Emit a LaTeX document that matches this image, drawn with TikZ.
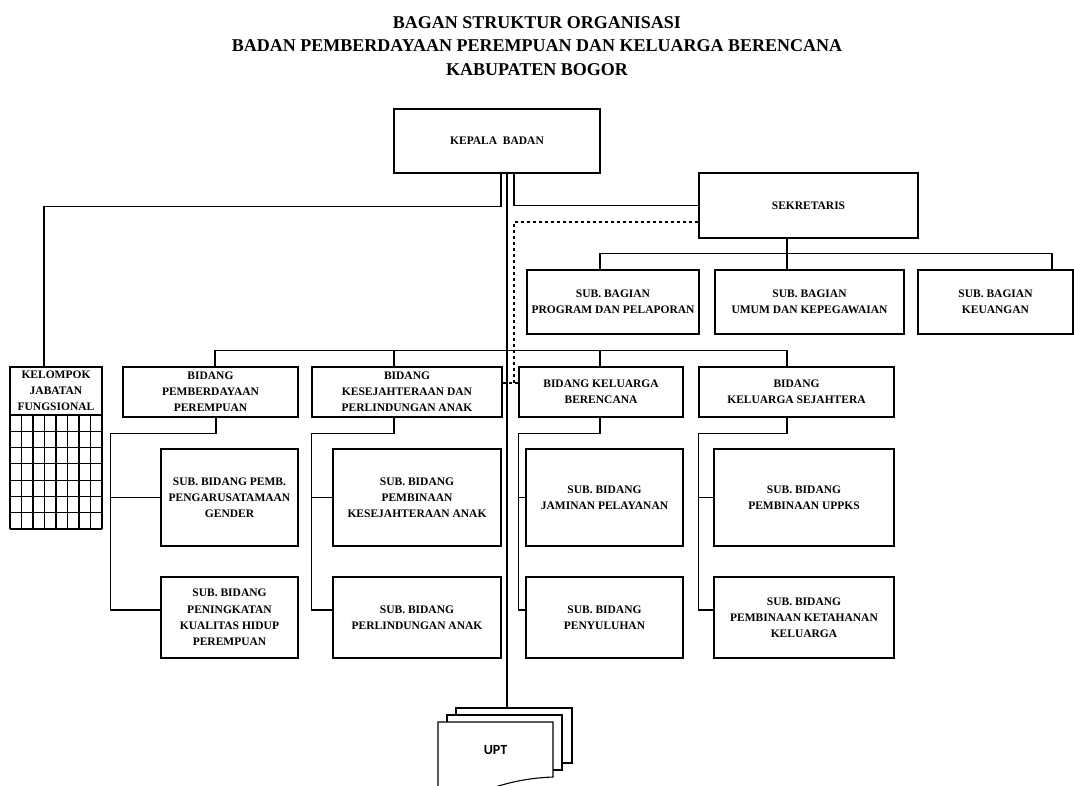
\documentclass[tikz,border=0pt]{standalone}
\usepackage{fontspec}
\setmainfont{Liberation Serif}
\newfontfamily\uptfont{Carlito}
\usetikzlibrary{positioning,calc}

\begin{document}
\begin{tikzpicture}[x=1pt,y=-1pt,line width=1.1pt,
  org box/.style={draw,align=center,inner sep=0pt,font=\bfseries\fontsize{11.5}{16.2}\selectfont},
  doc box/.style={draw,fill=white,inner sep=0pt}]
\path[use as bounding box,fill=white] (0,0) rectangle (1074,785);
\node[align=center,font=\bfseries\fontsize{18}{23.5}\selectfont] (title) at (537,46)
  {BAGAN STRUKTUR ORGANISASI\\BADAN PEMBERDAYAAN PEREMPUAN DAN KELUARGA BERENCANA\\KABUPATEN BOGOR};
\begin{scope}[every node/.style={org box}]
\node[minimum width=206,minimum height=64] (kepala) at (497,141) {KEPALA\ \ BADAN};
\node[minimum width=219,minimum height=65] (sekretaris) at (808.5,205.5) {SEKRETARIS};
\node[minimum width=172,minimum height=64] (sbprog) at (613,302) {SUB. BAGIAN\\PROGRAM DAN PELAPORAN};
\node[minimum width=189,minimum height=64] (sbumum) at (809.5,302) {SUB. BAGIAN\\UMUM DAN KEPEGAWAIAN};
\node[minimum width=155,minimum height=64] (sbkeu) at (995.5,302) {SUB. BAGIAN\\KEUANGAN};
\node[minimum width=92,minimum height=48] (kelompok) at (56,391) {KELOMPOK\\JABATAN\\FUNGSIONAL};
\node[minimum width=175,minimum height=50] (bpp) at (210.5,392) {BIDANG\\PEMBERDAYAAN\\PEREMPUAN};
\node[minimum width=190,minimum height=50] (bkpa) at (407,392) {BIDANG\\KESEJAHTERAAN DAN\\PERLINDUNGAN ANAK};
\node[minimum width=164,minimum height=50] (bkb) at (601,392) {BIDANG KELUARGA\\BERENCANA};
\node[minimum width=195,minimum height=50] (bks) at (796.5,392) {BIDANG\\KELUARGA SEJAHTERA};
\node[minimum width=137,minimum height=97] (spp1) at (229.5,497.5) {SUB. BIDANG PEMB.\\PENGARUSATAMAAN\\GENDER};
\node[minimum width=137,minimum height=81] (spp2) at (229.5,617.5) {SUB. BIDANG\\PENINGKATAN\\KUALITAS HIDUP\\PEREMPUAN};
\node[minimum width=168,minimum height=97] (skpa1) at (417,497.5) {SUB. BIDANG\\PEMBINAAN\\KESEJAHTERAAN ANAK};
\node[minimum width=168,minimum height=81] (skpa2) at (417,617.5) {SUB. BIDANG\\PERLINDUNGAN ANAK};
\node[minimum width=157,minimum height=97] (skb1) at (604.5,497.5) {SUB. BIDANG\\JAMINAN PELAYANAN};
\node[minimum width=157,minimum height=81] (skb2) at (604.5,617.5) {SUB. BIDANG\\PENYULUHAN};
\node[minimum width=180,minimum height=97] (sks1) at (804,497.5) {SUB. BIDANG\\PEMBINAAN UPPKS};
\node[minimum width=180,minimum height=81] (sks2) at (804,617.5) {SUB. BIDANG\\PEMBINAAN KETAHANAN\\KELUARGA};
\end{scope}
% kotak kelompok jabatan
\foreach \i in {0,...,8}
  \draw ({10+\i*11.5},415) -- ({10+\i*11.5},529);
\foreach \j in {1,...,7}
  \draw (10,{415+\j*16.29}) -- (102,{415+\j*16.29});
% UPT
\node[doc box,minimum width=116,minimum height=55] (updoc3) at (514,735.5) {};
\node[doc box,minimum width=115,minimum height=55] (updoc2) at (504.5,742.5) {};
\filldraw[fill=white] (438,800) -- (438,722) -- (553,722) -- (553,777)
  .. controls (528,778) and (505,782) .. (470,796) -- cycle;
\node[font=\uptfont\bfseries\fontsize{14}{16}\selectfont] (upt) at (495.5,750.5) {UPT};
% garis
\draw ([xshift=4pt]kepala.south) -- ++(0,33) -| ([xshift=-12pt]kelompok.north);
\draw ([xshift=17pt]kepala.south) |- (sekretaris.west);
\draw ([xshift=10pt]kepala.south) |- (updoc3.north);
\draw ([xshift=-21.5pt]sekretaris.south) -- ++(0,32);
\draw ([xshift=-13pt]sbprog.north) -- ++(0,-16) -| ([xshift=56.5pt]sbkeu.north);
\draw ([xshift=4.5pt]bpp.north) -- ++(0,-16) -| ([xshift=-9.5pt]bks.north);
\draw ([xshift=-13pt]bkpa.north) -- ++(0,-16);
\draw ([xshift=-1pt]bkb.north) -- ++(0,-16);
\coordinate (dash) at (514,383);
\draw[dashed] ([yshift=-16.5pt]sekretaris.west) -| (dash);
\draw[dashed] (dash -| bkpa.east) -- (dash -| bkb.west);
\draw ([xshift=5.5pt]bpp.south) -- ++(0,16) -| ([xshift=-50pt,yshift=7.5pt]spp2.west) -- ([yshift=7.5pt]spp2.west);
\draw (spp1.west) -- ++(-50,0);
\draw ([xshift=-13pt]bkpa.south) -- ++(0,16) -| ([xshift=-21pt,yshift=7.5pt]skpa2.west) -- ([yshift=7.5pt]skpa2.west);
\draw (skpa1.west) -- ++(-21,0);
\draw ([xshift=-1pt]bkb.south) -- ++(0,16) -| ([xshift=-7pt,yshift=7.5pt]skb2.west) -- ([yshift=7.5pt]skb2.west);
\draw (skb1.west) -- ++(-7,0);
\draw ([xshift=-9.5pt]bks.south) -- ++(0,16) -| ([xshift=-15pt,yshift=7.5pt]sks2.west) -- ([yshift=7.5pt]sks2.west);
\draw (sks1.west) -- ++(-15,0);
\end{tikzpicture}
\end{document}
